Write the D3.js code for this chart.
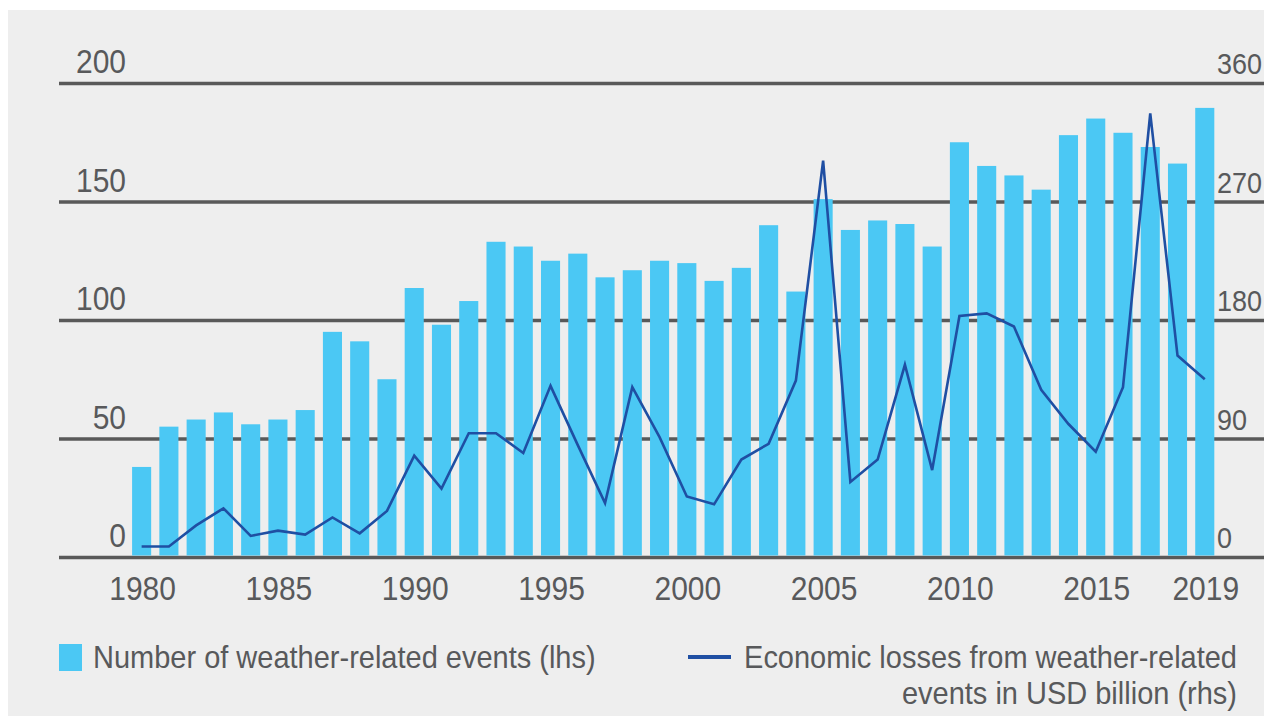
<!DOCTYPE html>
<html>
<head>
<meta charset="utf-8">
<script src="https://cdn.jsdelivr.net/npm/d3@7/dist/d3.min.js"></script>
<style>
  html, body { margin: 0; padding: 0; background: #ffffff; }
  svg { display: block; }
  text { font-family: "Liberation Sans", Arial, Helvetica, sans-serif; fill: #58595b; }
</style>
</head>
<body>
<svg id="chart" width="1264" height="716"></svg>
<script>
// ---- data ----
const years = d3.range(1980, 2020);
const events = [38, 55, 58, 61, 56, 58, 62, 95, 91, 75,
                113.5, 98, 108, 133, 131, 125, 128, 118, 121, 125,
                124, 116.5, 122, 140, 112, 151, 138, 142, 140.5, 131,
                175, 165, 161, 155, 178, 185, 179, 173, 166, 189.5];
const losses = [8, 8, 24, 37, 16, 20, 17, 30, 18, 35,
                77, 52, 94, 94, 79, 130, 85, 41, 129, 91,
                46, 40, 74, 86, 134, 301, 57, 74, 146, 66,
                183, 185, 175, 127, 101, 80, 129, 337, 153, 135];
const leftTicks = [0, 50, 100, 150, 200];
const rightTicks = [0, 90, 180, 270, 360];
const xTickYears = [1980, 1985, 1990, 1995, 2000, 2005, 2010, 2015, 2019];
const legendBars = "Number of weather-related events (lhs)";
const legendLine = ["Economic losses from weather-related", "events in USD billion (rhs)"];

// ---- layout ----
const svg = d3.select("#chart");
const barColor = "#4bc8f4";
const lineColor = "#1f4fa3";
const gridColor = "#595959";
const SY = 1.1; // vertical stretch of text

svg.append("rect").attr("x", 8).attr("y", 10).attr("width", 1256).attr("height", 706).attr("fill", "#eeeeee");

const x = d3.scaleBand().domain(years).range([128, 1218.4]).paddingInner(0.3).paddingOuter(0.15);
const yL = d3.scaleLinear().domain([0, 200]).range([557, 83]);
const yR = d3.scaleLinear().domain([0, 360]).range([557, 83]);

function stretchText(sel, tx, ty) {
  sel.attr("transform", `translate(${tx},${ty}) scale(1,${SY})`).attr("x", 0).attr("y", 0);
}

// gridlines
const grid = svg.append("g").attr("transform", "translate(59,0)")
  .call(d3.axisRight(yL).tickValues(leftTicks).tickSize(1205).tickFormat(""));
grid.select(".domain").remove();
grid.selectAll(".tick line").attr("stroke", gridColor).attr("stroke-width", 3.5);

// left labels
const gl = svg.append("g").attr("transform", "translate(126,0)")
  .call(d3.axisLeft(yL).tickValues(leftTicks).tickSize(0).tickPadding(0));
gl.select(".domain").remove();
gl.selectAll(".tick").attr("transform", null);
gl.selectAll(".tick text").each(function(d) {
  d3.select(this).attr("dy", null).attr("text-anchor", "end").attr("font-size", 30).attr("fill", null);
  stretchText(d3.select(this), 0, yL(d) - 10);
});

// right labels
const gr = svg.append("g").attr("transform", "translate(1217,0)")
  .call(d3.axisRight(yR).tickValues(rightTicks).tickSize(0).tickPadding(0));
gr.select(".domain").remove();
gr.selectAll(".tick").attr("transform", null);
gr.selectAll(".tick text").each(function(d) {
  d3.select(this).attr("dy", null).attr("text-anchor", "start").attr("font-size", 27).attr("fill", null);
  stretchText(d3.select(this), 0, yR(d) - 9);
});

// bars
svg.append("g").selectAll("rect").data(years).join("rect")
  .attr("x", d => x(d))
  .attr("width", x.bandwidth())
  .attr("y", (d, i) => yL(events[i]))
  .attr("height", (d, i) => yL(0) - 1.5 - yL(events[i]))
  .attr("fill", barColor);

// line
const line = d3.line().x((d, i) => x(years[i]) + x.bandwidth() / 2).y(d => yR(d));
svg.append("path").datum(losses).attr("d", line)
  .attr("fill", "none").attr("stroke", lineColor).attr("stroke-width", 2.6).attr("stroke-linejoin", "miter");

// x axis labels
const gx = svg.append("g").attr("transform", "translate(0,0)")
  .call(d3.axisBottom(x).tickValues(xTickYears).tickSize(0).tickPadding(0));
gx.select(".domain").remove();
gx.selectAll(".tick").attr("transform", null);
gx.selectAll(".tick text").each(function(d) {
  d3.select(this).attr("dy", null).attr("text-anchor", "middle").attr("font-size", 30).attr("fill", null);
  stretchText(d3.select(this), x(d) + x.bandwidth() / 2 + 1, 600);
});

// legend
svg.append("rect").attr("x", 59).attr("y", 644).attr("width", 23).attr("height", 27).attr("fill", barColor);
const t1 = svg.append("text").attr("font-size", 29).attr("text-anchor", "start").text(legendBars);
stretchText(t1, 93, 668);

svg.append("line").attr("x1", 688).attr("x2", 731).attr("y1", 657).attr("y2", 657)
  .attr("stroke", lineColor).attr("stroke-width", 4);
legendLine.forEach((s, i) => {
  const t = svg.append("text").attr("font-size", 29).attr("text-anchor", "end").text(s);
  stretchText(t, 1237, 668 + i * 36);
});
</script>
</body>
</html>
